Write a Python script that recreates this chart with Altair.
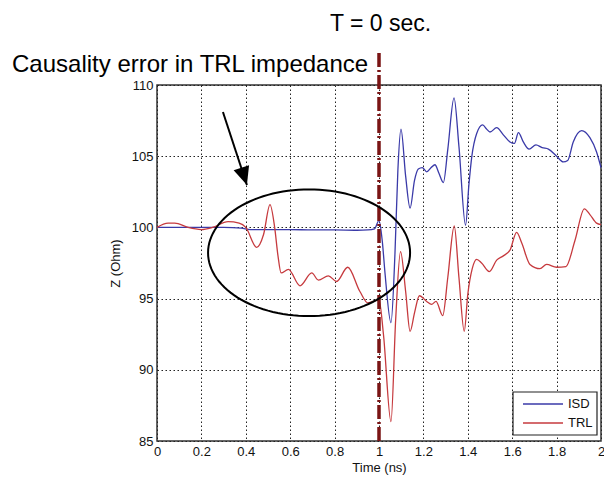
import altair as alt
import pandas as pd
import numpy as np

# ---- data ----
isd_t = [0, 0.1, 0.2, 0.3, 0.38, 0.42, 0.5, 0.6, 0.7, 0.8, 0.9, 0.95, 0.98, 1.0,
         1.015, 1.027, 1.054, 1.072, 1.085, 1.099, 1.12, 1.14, 1.16, 1.177, 1.195,
         1.215, 1.235, 1.252, 1.27, 1.29, 1.31, 1.338, 1.36, 1.39, 1.405, 1.418,
         1.44, 1.467, 1.485, 1.50, 1.53, 1.56, 1.59, 1.61, 1.628, 1.65, 1.676,
         1.707, 1.735, 1.763, 1.80, 1.83, 1.85, 1.875, 1.913, 1.95, 1.98, 2.0]
isd_z = [100.0, 100.0, 100.0, 100.0, 99.95, 99.85, 99.85, 99.85, 99.82, 99.82, 99.8,
         99.82, 99.9, 100.5, 99.0, 96.8, 93.3, 98.2, 104.0, 106.9, 103.6, 101.35,
         103.3, 104.1, 104.2, 103.9, 104.2, 104.4, 103.8, 103.15, 105.5, 109.1,
         105.7, 100.15, 103.0, 104.97, 106.6, 107.2, 106.9, 106.7, 107.0, 106.5,
         106.0, 105.9, 106.65, 106.0, 105.5, 105.8, 105.6, 105.5, 105.0, 104.6,
         104.7, 106.0, 106.8, 106.3, 105.3, 104.2]

trl_t = [0, 0.05, 0.08, 0.14, 0.2, 0.25, 0.32, 0.37, 0.4, 0.449, 0.48, 0.509, 0.53,
         0.545, 0.559, 0.592, 0.644, 0.697, 0.727, 0.772, 0.809, 0.859, 0.914,
         0.95, 1.0, 1.02, 1.054, 1.075, 1.097, 1.12, 1.14, 1.16, 1.182, 1.215,
         1.237, 1.257, 1.287, 1.31, 1.339, 1.36, 1.384, 1.40, 1.42, 1.44, 1.462,
         1.497, 1.53, 1.56, 1.59, 1.62, 1.643, 1.68, 1.725, 1.755, 1.80, 1.842,
         1.883, 1.925, 1.95, 1.98, 2.0]
trl_z = [100.0, 100.3, 100.3, 100.0, 99.85, 100.0, 100.4, 100.3, 100.0, 98.6, 99.5,
         101.6, 100.0, 98.0, 96.8, 97.05, 95.9, 96.8, 96.3, 96.6, 96.2, 97.2, 95.5,
         94.7, 94.9, 92.5, 86.36, 93.5, 98.3, 95.5, 92.7, 94.0, 95.2, 94.8, 94.6,
         94.8, 93.8, 96.5, 100.1, 96.5, 92.7, 95.3, 97.1, 97.75, 97.5, 96.9, 97.7,
         98.0, 98.4, 99.65, 98.9, 97.4, 97.1, 97.4, 97.2, 97.25, 99.1, 101.3,
         100.9, 100.3, 100.2]

series_names = ["ISD", "TRL"]
series_colors = ["#3a3aa8", "#c63a3e"]

x_ticks = [0, 0.2, 0.4, 0.6, 0.8, 1.0, 1.2, 1.4, 1.6, 1.8, 2.0]
y_ticks = [85, 90, 95, 100, 105, 110]

title_text = ["Causality error in TRL impedance"]
t0_text = ["T = 0 sec."]

# annotation geometry (data units)
t_zero = [1.0]
ellipse_center = [0.685, 98.22]
ellipse_radii = [0.455, 4.45]
arrow_t = [0.297, 0.405]
arrow_z = [108.1, 102.98]

FONT = "Liberation Sans"

# ---- tables ----
lines_df = pd.concat([
    pd.DataFrame({"t": isd_t, "z": isd_z, "series": "ISD"}),
    pd.DataFrame({"t": trl_t, "z": trl_z, "series": "TRL"}),
], ignore_index=True)

ang = np.linspace(0, 2 * np.pi, 121)
ellipse_df = pd.DataFrame({
    "t": ellipse_center[0] + ellipse_radii[0] * np.cos(ang),
    "z": ellipse_center[1] + ellipse_radii[1] * np.sin(ang),
    "i": np.arange(len(ang)),
})
arrow_df = pd.DataFrame({"t": arrow_t, "z": arrow_z, "i": [0, 1]})
tip_df = arrow_df.iloc[[1]]
rule_df = pd.DataFrame({"t": t_zero})

x_enc = alt.X("t:Q", scale=alt.Scale(domain=[0, 2], nice=False, zero=False),
              axis=alt.Axis(values=x_ticks, format="~g", title="Time (ns)",
                            labelFlush=False, labelOverlap=False, titlePadding=3))
y_enc = alt.Y("z:Q", scale=alt.Scale(domain=[85, 110], nice=False, zero=False),
              axis=alt.Axis(values=y_ticks, title="Z (Ohm)", labelFlush=False,
                            labelOverlap=False, titlePadding=9))

color_scale = alt.Scale(domain=series_names, range=series_colors)

lines = alt.Chart(lines_df).mark_line(interpolate="monotone", strokeWidth=1.3).encode(
    x=x_enc, y=y_enc,
    color=alt.Color("series:N", scale=color_scale, legend=None),
)

rule = alt.Chart(rule_df).mark_rule(color="#7a1414", strokeWidth=3.5,
                                    strokeDash=[14, 3, 2, 3]).encode(
    x=x_enc, y=alt.value(-32), y2=alt.value(356))

ellipse = alt.Chart(ellipse_df).mark_line(color="black", strokeWidth=2).encode(
    x=x_enc, y=y_enc, order="i:Q")

shaft = alt.Chart(arrow_df).mark_line(color="black", strokeWidth=2).encode(
    x=x_enc, y=y_enc, order="i:Q")

head = alt.Chart(tip_df).mark_point(shape="M0,0 L-0.45,-1 L0.45,-1 Z", size=1296,
                                    filled=True, color="black", opacity=1,
                                    angle=342).encode(x=x_enc, y=y_enc)

title = alt.Chart(pd.DataFrame({"label": title_text})).mark_text(
    font=FONT, fontSize=24, align="left", baseline="alphabetic", color="black").encode(
    x=alt.value(-145), y=alt.value(-13), text="label:N")

t0 = alt.Chart(pd.DataFrame({"label": t0_text})).mark_text(
    font=FONT, fontSize=23, align="left", baseline="alphabetic", color="black").encode(
    x=alt.value(173), y=alt.value(-54), text="label:N")

# ---- legend box drawn by hand (MATLAB style) ----
leg_layers = [alt.Chart(pd.DataFrame({"k": [0]})).mark_rect(
    fill="white", stroke="#222", strokeWidth=1.2).encode(
    x=alt.value(356), x2=alt.value(440), y=alt.value(307), y2=alt.value(350))]
leg_rows = [319, 338]
for name, col, ry in zip(series_names, series_colors, leg_rows):
    row_df = pd.DataFrame({"series": [name]})
    leg_layers.append(alt.Chart(row_df).mark_rule(strokeWidth=1.3, color=col).encode(
        x=alt.value(366), x2=alt.value(406), y=alt.value(ry)))
    leg_layers.append(alt.Chart(row_df).mark_text(
        font=FONT, fontSize=13, align="left", baseline="middle", color="#111").encode(
        x=alt.value(411), y=alt.value(ry), text="series:N"))

chart = alt.layer(lines, rule, ellipse, shaft, head, title, t0, *leg_layers).properties(
    width=444, height=356,
    padding={"left": 157, "top": 85, "right": 3, "bottom": 38},
    autosize=alt.AutoSizeParams(type="none"),
    background="white",
).configure_view(stroke="#333", strokeWidth=1.5).configure_axis(
    grid=True, gridColor="#222", gridDash=[1.5, 2.5], gridWidth=1,
    domain=False, ticks=False, labelFont=FONT, labelFontSize=13, labelColor="#111",
    labelPadding=4, titleFont=FONT, titleFontSize=13, titleFontWeight="normal",
    titleColor="#111",
)

chart.save("out.html", embed_options={"renderer": "svg", "actions": False})
